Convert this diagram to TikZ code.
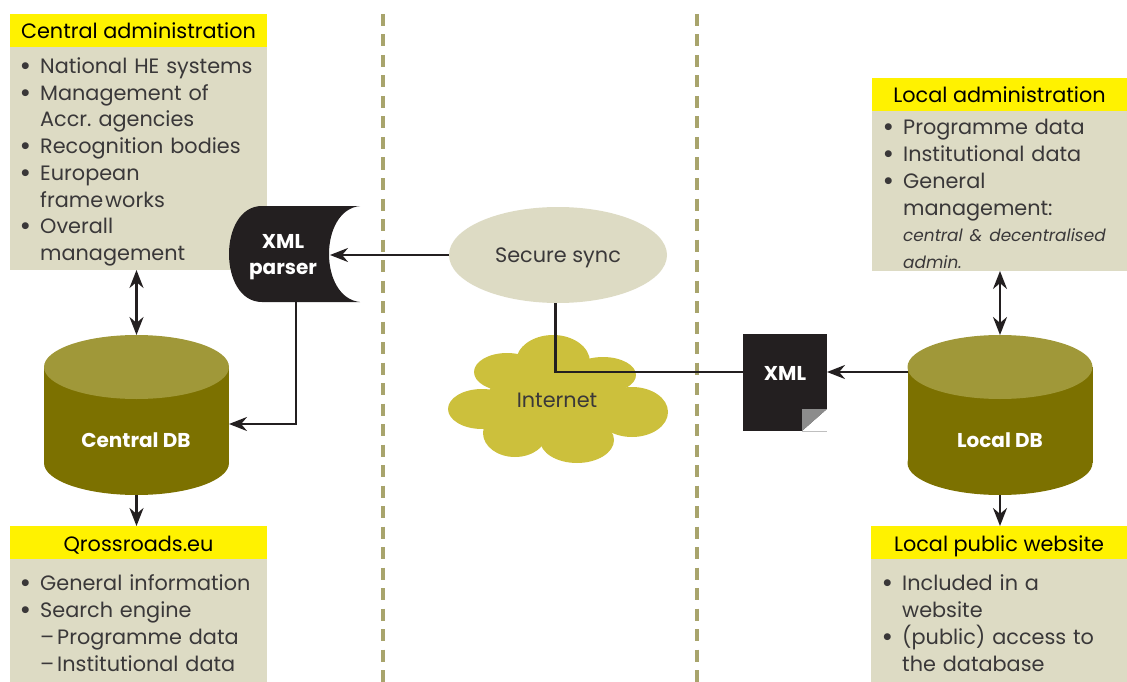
\documentclass[tikz,border=0pt]{standalone}
\usepackage{fontspec}
\setmainfont{Poppins}
\usepackage{xcolor}
\usetikzlibrary{shapes.geometric,arrows.meta}

\definecolor{paneltan}{HTML}{DDDBC4}
\definecolor{headyellow}{HTML}{FFF200}
\definecolor{dbbody}{HTML}{7C7100}
\definecolor{dbtop}{HTML}{A09839}
\definecolor{cloudfill}{HTML}{CCC03C}
\definecolor{dashcolor}{HTML}{A8A46C}
\definecolor{inkblack}{HTML}{231F20}
\definecolor{bodytext}{HTML}{3A3839}

\newenvironment{panellist}{%
  \begin{list}{\raisebox{-2pt}{\fontsize{28}{26}\selectfont\textbullet}}{%
    \setlength{\leftmargin}{20pt}%
    \setlength{\labelwidth}{14pt}%
    \setlength{\labelsep}{9pt}%
    \setlength{\topsep}{0pt}%
    \setlength{\partopsep}{0pt}%
    \setlength{\parsep}{0pt}%
    \setlength{\itemsep}{0pt}%
  }%
}{\end{list}}
\frenchspacing

\begin{document}
\begin{tikzpicture}[x=1pt,y=-1pt]
    \newcommand{\panelfont}[0]{\fontsize{20.8}{26.75}\selectfont}
    \newcommand{\bandheight}[0]{33pt}

    \tikzstyle{dedge} = [line width=2.4pt,-{Stealth[length=18pt,width=14pt]},draw=inkblack]
    \tikzstyle{ddedge} = [line width=2.4pt,{Stealth[length=18pt,width=14pt]}-{Stealth[length=18pt,width=14pt]},draw=inkblack]
    \tikzstyle{plainedge} = [line width=2.4pt,draw=inkblack]
    \tikzstyle{zone} = [line width=3.2pt,draw=dashcolor,dash pattern=on 12pt off 8.5pt]

    \tikzstyle{head}=[
      rectangle,
      fill=headyellow,
      anchor=north west,
      inner sep=0pt,
      outer sep=0pt,
      minimum height=\bandheight,
      text height=19pt,
      text depth=2pt,
      text=black,
      font=\panelfont,
    ]
    \tikzstyle{panel}=[
      rectangle,
      fill=paneltan,
      anchor=north west,
      inner sep=0pt,
      outer sep=0pt,
    ]
    \tikzstyle{panelbody}=[
      anchor=north west,
      inner sep=0pt,
      text width=240pt,
      text=bodytext,
      font=\panelfont,
    ]
    \tikzstyle{dbcyl}=[
      rectangle,
      minimum width=185pt,
      minimum height=160pt,
      inner sep=0pt,
      outer sep=0pt,
    ]
    \tikzstyle{whitelabel}=[
      text=white,
      align=center,
      font=\fontsize{20}{26}\selectfont\bfseries,
      inner sep=0pt,
    ]

    \useasboundingbox (0,0) rectangle (1127,682);

    % zones
    \draw[zone] (383,14) -- (383,682);
    \draw[zone] (697,14) -- (697,682);

    % left column
    \node[panel,minimum width=257pt,minimum height=223pt] (centralpanel) at (10,47) {};
    \node[head,minimum width=257pt] (centralhead) at (10,14) {Central administration};
    \node[panelbody] (centraltext) at (20,46.5) {%
      \begin{panellist}
        \item National HE systems
        \item Management of\\Accr. agencies
        \item Recognition bodies
        \item European\\frame\kern2pt works
        \item Overall\\management
      \end{panellist}};

    \node[panel,minimum width=257pt,minimum height=123pt] (qrosspanel) at (10,559) {};
    \node[head,minimum width=257pt] (qrosshead) at (10,526) {Qrossroads.eu};
    \node[panelbody] (qrosstext) at (20,564) {%
      \begin{panellist}
        \item General information
        \item Search engine\\
          \mbox{}–\kern-4pt{} Programme data\\
          \mbox{}–\kern-4pt{} Institutional data
      \end{panellist}};

    % databases
    \foreach \dbx in {136.5,1000} {
      \fill[dbbody] (\dbx,463) ellipse [x radius=92.5pt,y radius=32pt];
      \fill[dbbody] (\dbx-92.5,367) rectangle (\dbx+92.5,463);
      \fill[dbtop] (\dbx,367) ellipse [x radius=92.5pt,y radius=32pt];
    }
    \node[dbcyl] (centraldb) at (136.5,415) {};
    \node[whitelabel] (centraldblabel) at (136,440) {Central DB};

    % parser
    \fill[inkblack] (262,206) -- (360,206)
      .. controls (340,208) and (329,230) .. (329,254)
      .. controls (329,278) and (340,300) .. (360,302)
      -- (262,302)
      .. controls (240,302) and (229,278) .. (229,254)
      .. controls (229,230) and (240,206) .. (262,206) -- cycle;
    \node[whitelabel] (xmlparser) at (283,257.5) {XML\\parser};
    \coordinate (parserin) at (330,255);
    \coordinate (parserout) at (296,302);
    \coordinate (centraldbin) at (229,424);

    % middle
    \node[ellipse,fill=paneltan,minimum width=218pt,minimum height=96pt,inner sep=0pt,outer sep=0pt,
      text=bodytext,font=\panelfont,text height=19pt,text depth=5pt] (securesync) at (558,255) {Secure sync};
    \foreach \cx/\cy/\rx/\ry in {553/362/37/27, 507/372/33/19, 603/375/33/18, 482/409/34/20,
                                 632/412/36/25, 515/433/32/24, 577/440/37/23, 557/400/70/38} {
      \fill[cloudfill] (\cx,\cy) ellipse [x radius=\rx pt,y radius=\ry pt];
    }
    \node[text=bodytext,font=\panelfont,inner sep=0pt] (internet) at (557,400) {Internet};
    \coordinate (syncout) at (555.5,303);
    \coordinate (syncbend) at (555.5,372);

    % xml document
    \node[rectangle,fill=inkblack,minimum width=84pt,minimum height=97pt,inner sep=0pt,outer sep=0pt,
      anchor=north west] (xmldoc) at (743,334) {};
    \node[whitelabel] (xmldoclabel) at (785,373) {XML};
    \fill[white] (802,431) -- (827,409) -- (827,431) -- cycle;
    \fill[gray!90] (802,431) -- (802,409) -- (827,409) -- cycle;
    \draw[gray!50,line width=0.6pt] (802,431) -- (827,431);
    \coordinate (xmldocin) at (827,372);
    \coordinate (xmldocout) at (743,372);

    % right column
    \node[panel,minimum width=255pt,minimum height=160pt] (localpanel) at (872,111) {};
    \node[head,minimum width=255pt] (localhead) at (872,78) {Local administration};
    \node[panelbody] (localtext) at (883,108) {%
      \begin{panellist}
        \item Programme data
        \item Institutional data
        \item General\\management:\\
          {\fontsize{16.9}{26.75}\selectfont\itshape central \& decentralised\\admin.}
      \end{panellist}};

    \node[panel,minimum width=256pt,minimum height=123pt] (webpanel) at (871,559) {};
    \node[head,minimum width=256pt] (webhead) at (871,526) {Local public website};
    \node[panelbody] (webtext) at (882,564) {%
      \begin{panellist}
        \item Included in a\\website
        \item (public) access to\\the database
      \end{panellist}};

    \node[dbcyl] (localdb) at (1000,415) {};
    \node[whitelabel] (localdblabel) at (1000,440) {Local DB};

    % connectors
    \draw[ddedge] (centralpanel.south -| centraldb) -- (centraldb.north);
    \draw[dedge] (centraldb.south) -- (qrosshead.north -| centraldb);
    \draw[dedge] (securesync.west) -- (parserin);
    \draw[dedge] (parserout) |- (centraldbin);
    \draw[plainedge] (syncout) -- (syncbend) -- (xmldocout);
    \draw[dedge] (localdb.west |- xmldocin) -- (xmldocin);
    \draw[ddedge] (localpanel.south -| localdb) -- (localdb.north);
    \draw[dedge] (localdb.south) -- (webhead.north -| localdb);
\end{tikzpicture}
\end{document}
